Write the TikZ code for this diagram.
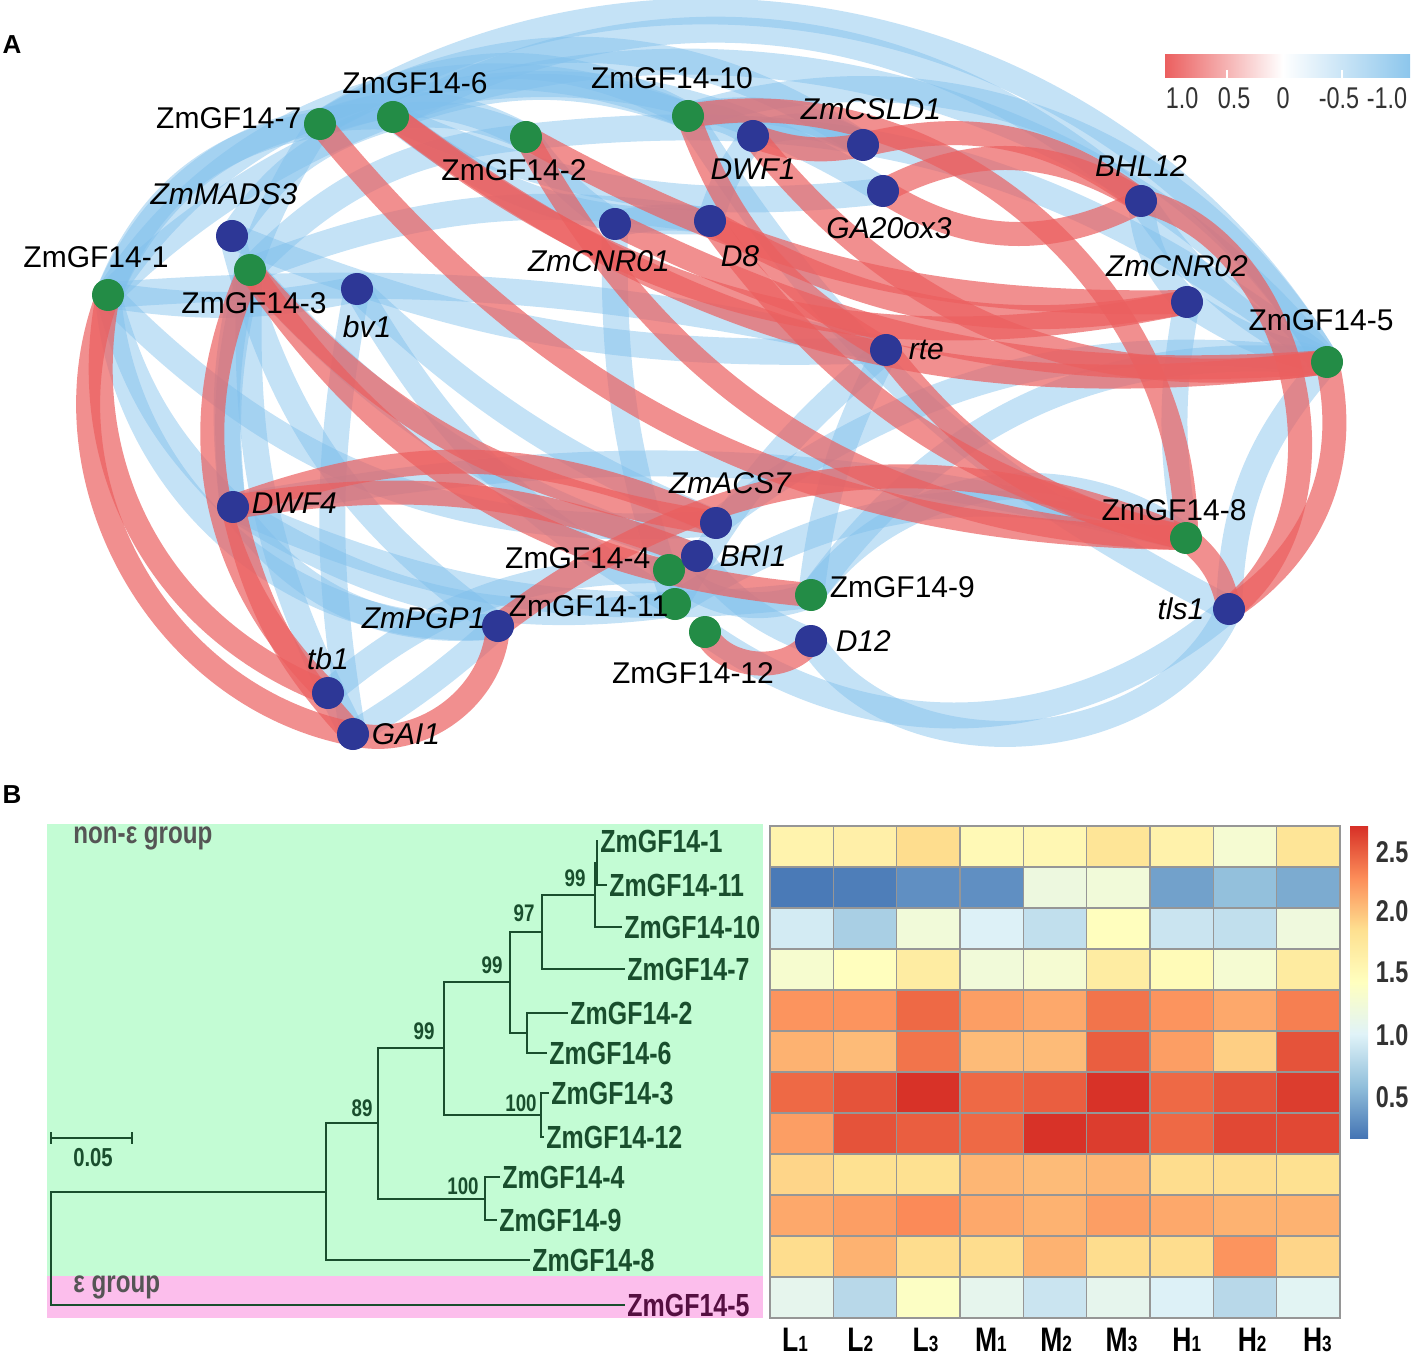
\documentclass[tikz,border=0pt]{standalone}
\usepackage{fontspec}
\setmainfont{Liberation Sans}
\newfontfamily\narrowfont[FakeStretch=0.78]{Liberation Sans}
\usetikzlibrary{positioning, backgrounds}

\definecolor{gfgreen}{RGB}{35,140,70}
\definecolor{genblue}{RGB}{45,55,150}
\definecolor{bandblue}{RGB}{125,190,235}
\definecolor{bandred}{RGB}{235,95,95}
\definecolor{legendblue}{RGB}{140,198,236}
\definecolor{treegreen}{RGB}{25,78,45}
\definecolor{epsilonpurple}{RGB}{85,15,65}
\definecolor{nonegroup}{RGB}{195,252,212}
\definecolor{egroup}{RGB}{252,190,236}
\definecolor{gridgray}{RGB}{150,150,150}
\definecolor{grouptext}{RGB}{85,85,85}
% heatmap palette
\definecolor{hm0}{HTML}{4575B4}
\definecolor{hm1}{HTML}{91BFDB}
\definecolor{hm2}{HTML}{E0F3F8}
\definecolor{hm3}{HTML}{FFFFBF}
\definecolor{hm4}{HTML}{FEE090}
\definecolor{hm5}{HTML}{FC8D59}
\definecolor{hm6}{HTML}{D73027}

\pgfdeclarehorizontalshading{corrbar}{100bp}{color(0bp)=(bandred); color(25bp)=(bandred); color(49bp)=(white); color(75bp)=(legendblue); color(100bp)=(legendblue)}
\pgfdeclareverticalshading{heatbar}{100bp}{color(0bp)=(hm0); color(25bp)=(hm0); color(33.33bp)=(hm1); color(41.67bp)=(hm2); color(50bp)=(hm3); color(58.33bp)=(hm4); color(66.67bp)=(hm5); color(75bp)=(hm6); color(100bp)=(hm6)}

\newcommand\setheat[1]{%
  \pgfmathsetmacro\hpos{max(0,min(5.999,(#1-0.17)/0.4233))}%
  \pgfmathtruncatemacro\hlo{floor(\hpos)}%
  \pgfmathtruncatemacro\hhi{\hlo+1}%
  \pgfmathtruncatemacro\hmix{round(100*(\hpos-\hlo))}%
  \colorlet{heatcell}{hm\hhi!\hmix!hm\hlo}}

\tikzset{
  gf/.style={circle,fill=gfgreen,minimum size=16pt,inner sep=0pt},
  gene/.style={circle,fill=genblue,minimum size=16pt,inner sep=0pt},
  lab/.style={font=\fontsize{15}{18}\selectfont,inner sep=1pt},
  ilab/.style={lab,font=\fontsize{15}{18}\selectfont\itshape},
  blueband/.style={line width=13pt,draw=bandblue,opacity=0.45},
  redband/.style={line width=12pt,draw=bandred,opacity=0.7},
  leaf/.style={font=\narrowfont\bfseries\fontsize{16}{18}\selectfont,text=treegreen,anchor=west,inner sep=1pt},
  boot/.style={font=\narrowfont\bfseries\fontsize{12}{14}\selectfont,text=treegreen,inner sep=0pt},
  branch/.style={draw=treegreen,line width=0.75pt},
  grouplab/.style={font=\narrowfont\bfseries\fontsize{15.5}{17}\selectfont,text=grouptext,anchor=west,inner sep=0pt},
  legtext/.style={font=\narrowfont\fontsize{15}{17}\selectfont,text=black!80,inner sep=0pt},
  barnum/.style={font=\narrowfont\bfseries\fontsize{15}{17}\selectfont,text=black!80,inner sep=0pt},
  collab/.style={font=\narrowfont\bfseries\fontsize{17}{19}\selectfont,inner sep=0pt},
  panel/.style={font=\bfseries\fontsize{13}{15}\selectfont,inner sep=0pt}
}

\begin{document}
\begin{tikzpicture}[x=0.5pt, y=0.5pt]
    \useasboundingbox (0,0) rectangle (1418,-1358);
    \node[panel] (pA) at (12,-45) {A};
    \node[panel] (pB) at (12,-795) {B};

    % network, ZmGF14 nodes
    \node[gf, label={[lab,yshift=3pt]left:ZmGF14-7}] (g7) at (320,-124) {};
    \node[gf, label={[lab,xshift=11pt,yshift=2pt]above:ZmGF14-6}] (g6) at (393,-117) {};
    \node[gf, label={[lab,xshift=-6pt,yshift=-2pt]below:ZmGF14-2}] (g2) at (526,-137) {};
    \node[gf, label={[lab,xshift=-8pt,yshift=4pt]above:ZmGF14-10}] (g10) at (688,-116) {};
    \node[gf, label={[lab,xshift=2pt,yshift=-2pt]below:ZmGF14-3}] (g3) at (250,-270) {};
    \node[gf, label={[lab,xshift=-6pt,yshift=4pt]above:ZmGF14-1}] (g1) at (108,-295) {};
    \node[gf, label={[lab,xshift=-3pt,yshift=6pt]above:ZmGF14-5}] (g5) at (1327,-362) {};
    \node[gf, label={[lab,yshift=6pt]left:ZmGF14-4}] (g4) at (669,-570) {};
    \node[gf, label={[lab,xshift=6pt,yshift=-1pt]left:ZmGF14-11}] (g11) at (675,-604) {};
    \node[gf, label={[lab,xshift=-6pt,yshift=-6pt]below:ZmGF14-12}] (g12) at (705,-632) {};
    \node[gf, label={[lab,yshift=4pt]right:ZmGF14-9}] (g9) at (811,-595) {};
    \node[gf, label={[lab,xshift=-6pt,yshift=-1pt]above:ZmGF14-8}] (g8) at (1186,-538) {};
    % network, other genes
    \node[gene, label={[ilab,yshift=-2pt]below:DWF1}] (dwf1) at (753,-136) {};
    \node[gene, label={[ilab,xshift=4pt,yshift=3pt]above:ZmCSLD1}] (csld1) at (863,-145) {};
    \node[gene, label={[ilab,xshift=3pt,yshift=-4pt]below:GA20ox3}] (ga20) at (883,-191) {};
    \node[gene, label={[ilab,yshift=3pt]above:BHL12}] (bhl12) at (1141,-201) {};
    \node[gene, label={[ilab,xshift=-4pt,yshift=6pt]above:ZmMADS3}] (mads3) at (232,-236) {};
    \node[gene, label={[ilab,xshift=5pt,yshift=-4pt]below:bv1}] (bv1) at (357,-289) {};
    \node[gene, label={[ilab,xshift=-8pt,yshift=-4pt]below:ZmCNR01}] (cnr01) at (615,-224) {};
    \node[gene, label={[ilab,xshift=15pt,yshift=-3pt]below:D8}] (d8) at (710,-221) {};
    \node[gene, label={[ilab,xshift=-5pt,yshift=3pt]above:ZmCNR02}] (cnr02) at (1187,-302) {};
    \node[gene, label={[ilab,xshift=2pt]right:rte}] (rte) at (886,-350) {};
    \node[gene, label={[ilab,yshift=2pt]right:DWF4}] (dwf4) at (233,-507) {};
    \node[gene, label={[ilab,xshift=7pt,yshift=5pt]above:ZmACS7}] (acs7) at (716,-523) {};
    \node[gene, label={[ilab,xshift=2pt]right:BRI1}] (bri1) at (697,-556) {};
    \node[gene, label={[ilab,xshift=3pt,yshift=4pt]left:ZmPGP1}] (pgp1) at (498,-626) {};
    \node[gene, label={[ilab,xshift=3pt]right:D12}] (d12) at (811,-641) {};
    \node[gene, label={[ilab,xshift=-3pt]left:tls1}] (tls1) at (1229,-609) {};
    \node[gene, label={[ilab,yshift=2pt]above:tb1}] (tb1) at (328,-693) {};
    \node[gene, label={[ilab]right:GAI1}] (gai1) at (353,-734) {};

    \begin{scope}[on background layer]
      \foreach \a/\b/\k in {g1/g5/48, g7/g5/46, g1/g10/40, g6/bhl12/35, g7/csld1/32, g10/g5/38,
          g6/g2/15, g7/g2/25, g1/g7/30, g1/rte/8, mads3/rte/-12, g3/d8/15, g1/pgp1/-45,
          g1/dwf4/-15, mads3/pgp1/-20, g3/gai1/-15, bv1/gai1/-10, pgp1/gai1/5, dwf4/pgp1/-30,
          bv1/g11/-15, d12/tls1/-62, g12/tls1/-38, g9/g8/45, g9/g5/30, acs7/g5/22, g11/g8/25,
          dwf4/g8/12, g10/tls1/-15, g5/tls1/-20, g2/cnr01/-10, cnr01/d8/10, d8/dwf1/10,
          dwf1/csld1/25, g10/dwf1/20, g6/d8/-20, cnr02/g5/-10, bhl12/cnr02/-20, tb1/g4/20,
          g7/dwf4/-20, bri1/d12/-15, g4/g9/-30, g2/g5/22, g6/g10/20, g7/g10/30, g3/g2/20,
          mads3/g6/20, g1/bv1/-10, g3/dwf4/-10, dwf4/g11/-20, g1/acs7/-25, bv1/acs7/-10,
          g3/bri1/-15, cnr01/g11/-10, rte/g11/-10, rte/g9/-10, cnr02/g8/-10, bhl12/g5/-15,
          g6/ga20/-15, g10/csld1/20, g1/g6/35, g7/ga20/25, dwf4/g9/-15}
        \draw[blueband] (\a.center) to[bend left=\k] (\b.center);
      \foreach \a/\b/\k in {g1/gai1/-50, g3/tb1/-35, dwf4/gai1/-15, gai1/pgp1/-50, pgp1/g8/30,
          g12/d12/-60, g6/g5/-22, g2/cnr02/-15, g7/g8/-25, dwf1/csld1/-15, ga20/bhl12/30,
          ga20/bhl12/-30, bhl12/tls1/65, d8/cnr02/-20, g10/rte/-20, cnr01/g5/-15, g8/tls1/20,
          tls1/g5/-35, dwf4/acs7/22, g3/g9/-25, csld1/bhl12/25, g10/g8/50, rte/g8/-20,
          g2/g8/-30, g6/cnr02/-25, d8/g8/-20, dwf1/g5/-30, g3/acs7/-20, dwf4/bri1/15,
          g1/tb1/-40}
        \draw[redband] (\a.center) to[bend left=\k] (\b.center);
    \end{scope}

    % correlation legend
    \shade[shading=corrbar] (1165,-55) rectangle (1410,-78);
    \draw[white, line width=1pt] (1227,-70) -- (1227,-78) (1342,-70) -- (1342,-78);
    \foreach \x/\t [count=\i] in {1182/1.0, 1234/0.5, 1283/0, 1339/-0.5, 1387/-1.0}
      \node[legtext] (leg\i) at (\x,-98) {\t};

    % panel B, tree
    \fill[nonegroup] (47,-824) rectangle (763,-1276);
    \fill[egroup] (47,-1276) rectangle (763,-1318);
    \node[grouplab] (nong) at (73,-838) {non-ε group};
    \node[grouplab] (eg) at (73,-1287) {ε group};

    \node[leaf] (t1) at (598,-841) {ZmGF14-1};
    \node[leaf] (t11) at (607,-885) {ZmGF14-11};
    \node[leaf] (t10) at (622,-927) {ZmGF14-10};
    \node[leaf] (t7) at (625,-969) {ZmGF14-7};
    \node[leaf] (t2) at (568,-1013) {ZmGF14-2};
    \node[leaf] (t6) at (547,-1053) {ZmGF14-6};
    \node[leaf] (t3) at (549,-1093) {ZmGF14-3};
    \node[leaf] (t12) at (544,-1137) {ZmGF14-12};
    \node[leaf] (t4) at (500,-1177) {ZmGF14-4};
    \node[leaf] (t9) at (497,-1220) {ZmGF14-9};
    \node[leaf] (t8) at (530,-1260) {ZmGF14-8};
    \node[leaf, text=epsilonpurple] (t5) at (625,-1305) {ZmGF14-5};

    \coordinate (na) at (597,-863);
    \coordinate (nb) at (595,-895);
    \coordinate (nc) at (542,-932);
    \coordinate (nd) at (527,-1033);
    \coordinate (ne) at (510,-982);
    \coordinate (nf) at (541,-1115);
    \coordinate (ng) at (444,-1048);
    \coordinate (nh) at (485,-1199);
    \coordinate (ni) at (378,-1123);
    \coordinate (nj) at (326,-1192);
    \coordinate (root) at (51,-1248);

    \draw[branch] (na) |- (t1.west) (na) |- (t11.west);
    \draw[branch] (nb) |- (na) (nb) |- (t10.west);
    \draw[branch] (nc) |- (nb) (nc) |- (t7.west);
    \draw[branch] (nd) |- (t2.west) (nd) |- (t6.west);
    \draw[branch] (ne) |- (nc) (ne) |- (nd);
    \draw[branch] (nf) |- (t3.west) (nf) |- (t12.west);
    \draw[branch] (ng) |- (ne) (ng) |- (nf);
    \draw[branch] (nh) |- (t4.west) (nh) |- (t9.west);
    \draw[branch] (ni) |- (ng) (ni) |- (nh);
    \draw[branch] (nj) |- (ni) (nj) |- (t8.west);
    \draw[branch] (root) |- (nj) (root) |- (t5.west);

    \foreach \x/\y/\t [count=\i] in {575/878/99, 524/913/97, 492/965/99, 521/1103/100,
        424/1031/99, 463/1186/100, 362/1108/89}
      \node[boot] (bs\i) at (\x,-\y) {\t};

    % scale bar
    \coordinate (sb1) at (51,-1138);
    \coordinate (sb2) at (132,-1138);
    \draw[branch] (sb1) -- (sb2) ([yshift=3pt]sb1) -- ([yshift=-3pt]sb1) ([yshift=3pt]sb2) -- ([yshift=-3pt]sb2);
    \node[boot, font=\narrowfont\bfseries\fontsize{13}{15}\selectfont] (sbl) at (93,-1158) {0.05};

    % panel B, heatmap
    \foreach \vals [count=\r] in {
        {1.6,1.65,1.88,1.52,1.55,1.8,1.62,1.3,1.8},
        {0.2,0.22,0.32,0.32,1.2,1.25,0.42,0.6,0.48},
        {0.95,0.72,1.25,1.0,0.85,1.45,0.9,0.85,1.22},
        {1.32,1.45,1.7,1.25,1.3,1.7,1.5,1.3,1.72},
        {2.25,2.25,2.45,2.2,2.15,2.4,2.25,2.15,2.35},
        {2.1,2.05,2.4,2.05,2.05,2.5,2.2,1.95,2.55},
        {2.45,2.55,2.7,2.45,2.5,2.7,2.45,2.55,2.65},
        {2.2,2.55,2.5,2.45,2.7,2.65,2.45,2.6,2.6},
        {1.92,1.85,1.85,2.08,2.05,2.08,1.88,1.88,1.85},
        {2.15,2.2,2.3,2.15,2.1,2.2,2.15,2.1,2.1},
        {1.88,2.1,1.88,1.88,2.1,1.88,1.88,2.25,1.92},
        {1.1,0.8,1.4,1.1,0.9,1.1,1.0,0.8,1.05}}
      \foreach \v [count=\c] in \vals {
        \setheat{\v}
        \draw[fill=heatcell, draw=gridgray, line width=0.6pt]
          ({770+(\c-1)*63.33},{-826-(\r-1)*41}) rectangle ++(63.33,-41);
      };

    \shade[shading=heatbar] (1350,-1138) rectangle (1368,-826);
    \foreach \v/\y [count=\i] in {2.5/852, 2.0/911, 1.5/972, 1.0/1035, 0.5/1097}
      \node[barnum] (bar\i) at (1392,-\y) {\v};

    \foreach \l/\d [count=\i] in {L/1, L/2, L/3, M/1, M/2, M/3, H/1, H/2, H/3}
      \node[collab] (col\i) at ({795+(\i-1)*65.3},-1340) {\l{\fontsize{11}{12}\selectfont\d}};
\end{tikzpicture}
\end{document}
